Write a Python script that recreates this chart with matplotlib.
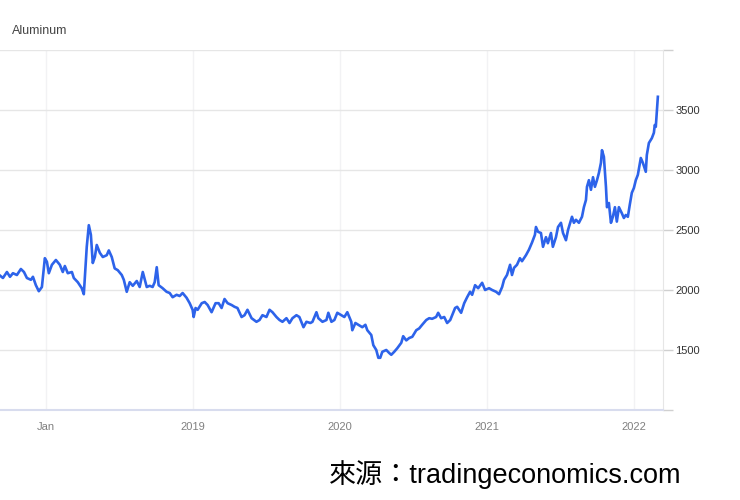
import numpy as np
import matplotlib.pyplot as plt

# aluminium price (USD/t), time in decimal years
years = [
    2017.688, 2017.708, 2017.735, 2017.756, 2017.776, 2017.803, 2017.830, 2017.851,
    2017.871, 2017.898, 2017.912, 2017.932, 2017.952, 2017.973, 2017.993, 2018.007,
    2018.020, 2018.041, 2018.068, 2018.095, 2018.115, 2018.129, 2018.149, 2018.177,
    2018.190, 2018.217, 2018.244, 2018.258, 2018.278, 2018.292, 2018.306, 2018.319,
    2018.333, 2018.346, 2018.367, 2018.387, 2018.414, 2018.428, 2018.448, 2018.468,
    2018.489, 2018.516, 2018.530, 2018.550, 2018.570, 2018.591, 2018.618, 2018.638,
    2018.659, 2018.686, 2018.706, 2018.726, 2018.740, 2018.754, 2018.767, 2018.794,
    2018.821, 2018.842, 2018.862, 2018.889, 2018.910, 2018.930, 2018.957, 2018.978,
    2018.998, 2019.005, 2019.018, 2019.032, 2019.060, 2019.080, 2019.100, 2019.127,
    2019.154, 2019.175, 2019.195, 2019.215, 2019.236, 2019.263, 2019.283, 2019.303,
    2019.331, 2019.351, 2019.371, 2019.399, 2019.432, 2019.453, 2019.473, 2019.500,
    2019.521, 2019.541, 2019.568, 2019.589, 2019.609, 2019.636, 2019.657, 2019.677,
    2019.704, 2019.724, 2019.752, 2019.772, 2019.799, 2019.813, 2019.840, 2019.853,
    2019.881, 2019.908, 2019.921, 2019.942, 2019.962, 2019.982, 2020.010, 2020.030,
    2020.050, 2020.077, 2020.084, 2020.105, 2020.125, 2020.152, 2020.173, 2020.186,
    2020.213, 2020.227, 2020.247, 2020.261, 2020.274, 2020.288, 2020.315, 2020.335,
    2020.349, 2020.369, 2020.390, 2020.417, 2020.430, 2020.451, 2020.471, 2020.492,
    2020.519, 2020.539, 2020.559, 2020.587, 2020.607, 2020.627, 2020.654, 2020.668,
    2020.688, 2020.709, 2020.729, 2020.750, 2020.763, 2020.783, 2020.797, 2020.824,
    2020.845, 2020.865, 2020.885, 2020.899, 2020.919, 2020.940, 2020.967, 2020.987,
    2021.014, 2021.035, 2021.062, 2021.082, 2021.103, 2021.116, 2021.136, 2021.157,
    2021.170, 2021.184, 2021.204, 2021.224, 2021.238, 2021.265, 2021.285, 2021.306,
    2021.326, 2021.333, 2021.347, 2021.367, 2021.381, 2021.401, 2021.414, 2021.435,
    2021.448, 2021.469, 2021.483, 2021.503, 2021.517, 2021.537, 2021.551, 2021.578,
    2021.591, 2021.605, 2021.625, 2021.646, 2021.659, 2021.673, 2021.680, 2021.693,
    2021.707, 2021.721, 2021.734, 2021.748, 2021.761, 2021.775, 2021.782, 2021.795,
    2021.809, 2021.816, 2021.829, 2021.843, 2021.856, 2021.870, 2021.883, 2021.897,
    2021.917, 2021.931, 2021.944, 2021.958, 2021.971, 2021.985, 2021.999, 2022.012,
    2022.026, 2022.046, 2022.060, 2022.080, 2022.087, 2022.101, 2022.121, 2022.135,
    2022.141, 2022.148, 2022.162,
]
price = [
    2120, 2100, 2150, 2110, 2140, 2125, 2175, 2150,
    2100, 2085, 2110, 2040, 1990, 2025, 2265, 2235,
    2140, 2210, 2250, 2210, 2150, 2200, 2140, 2150,
    2100, 2065, 2015, 1965, 2360, 2540, 2460, 2225,
    2275, 2375, 2310, 2275, 2290, 2330, 2275, 2180,
    2165, 2125, 2085, 1985, 2065, 2035, 2075, 2025,
    2150, 2025, 2035, 2025, 2065, 2190, 2040, 2015,
    1985, 1975, 1940, 1960, 1950, 1975, 1935, 1890,
    1835, 1775, 1850, 1835, 1890, 1900, 1875, 1815,
    1890, 1890, 1850, 1925, 1890, 1875, 1860, 1850,
    1775, 1790, 1835, 1765, 1735, 1750, 1790, 1775,
    1835, 1815, 1775, 1750, 1735, 1765, 1725, 1765,
    1790, 1775, 1690, 1735, 1725, 1735, 1815, 1765,
    1735, 1750, 1810, 1735, 1750, 1810, 1790, 1775,
    1815, 1735, 1665, 1725, 1710, 1690, 1710, 1665,
    1625, 1540, 1500, 1435, 1435, 1485, 1500, 1475,
    1460, 1485, 1515, 1560, 1615, 1580, 1600, 1610,
    1665, 1680, 1710, 1750, 1765, 1760, 1775, 1810,
    1765, 1775, 1725, 1750, 1790, 1850, 1860, 1810,
    1890, 1940, 1985, 1960, 2040, 2015, 2060, 2000,
    2015, 2000, 1985, 1965, 2025, 2085, 2125, 2210,
    2125, 2185, 2210, 2265, 2240, 2290, 2335, 2395,
    2460, 2525, 2485, 2475, 2360, 2440, 2390, 2475,
    2360, 2440, 2525, 2560, 2475, 2415, 2500, 2610,
    2560, 2585, 2560, 2610, 2690, 2750, 2860, 2915,
    2835, 2940, 2860, 2915, 2975, 3060, 3165, 3110,
    2860, 2690, 2725, 2560, 2610, 2690, 2570, 2690,
    2640, 2600, 2625, 2610, 2710, 2810, 2850, 2915,
    2960, 3100, 3060, 2985, 3125, 3225, 3265, 3310,
    3375, 3360, 3610,
]
x_ticks = [2018, 2019, 2020, 2021, 2022]
x_labels = ["Jan", "2019", "2020", "2021", "2022"]
y_ticks = [1000, 1500, 2000, 2500, 3000, 3500, 4000]
y_labels = ["", "1500", "2000", "2500", "3000", "3500", ""]

plt.rcParams['font.family'] = ['Liberation Sans', 'DejaVu Sans']

fig = plt.figure(figsize=(7.4, 5), dpi=100)
ax = fig.add_axes([0, 0.18, 663 / 740, 0.72])

ax.plot(years, price, color='#2d63ea', linewidth=1.9, solid_joinstyle='round')

ax.set_xlim(2017.688, 2022.197)
ax.set_ylim(1000, 4000)

ax.set_xticks(x_ticks)
ax.set_xticklabels(x_labels)
ax.set_yticks(y_ticks)
ax.set_yticklabels(y_labels)

ax.yaxis.tick_right()
ax.tick_params(axis='y', length=7, width=1, color='#d0d0d0', labelsize=8,
               labelcolor='#333333', pad=2)
ax.tick_params(axis='x', length=0, labelsize=8, labelcolor='#808080', pad=9)

ax.grid(axis='y', color='#e6e6e6', linewidth=1)
ax.grid(axis='x', color='#f2f2f4', linewidth=1)

for side in ['top', 'left']:
    ax.spines[side].set_visible(False)
ax.spines['right'].set_color('#e6e6e6')
ax.spines['bottom'].set_color('#d8dcee')
ax.spines['bottom'].set_linewidth(1.5)

fig.text(12 / 740, 1 - 31 / 500, "Aluminum", fontsize=9, color='#444444',
         va='center', ha='left')
# latin part in an Arial-like face, CJK glyphs fall back to Noto
fig.text(681 / 740, 1 - 475 / 500, "來源：tradingeconomics.com", fontsize=19.5,
         color='black', ha='right', va='center',
         family=['Liberation Sans', 'Noto Sans CJK TC'])

fig.savefig('out.png', dpi=100)
